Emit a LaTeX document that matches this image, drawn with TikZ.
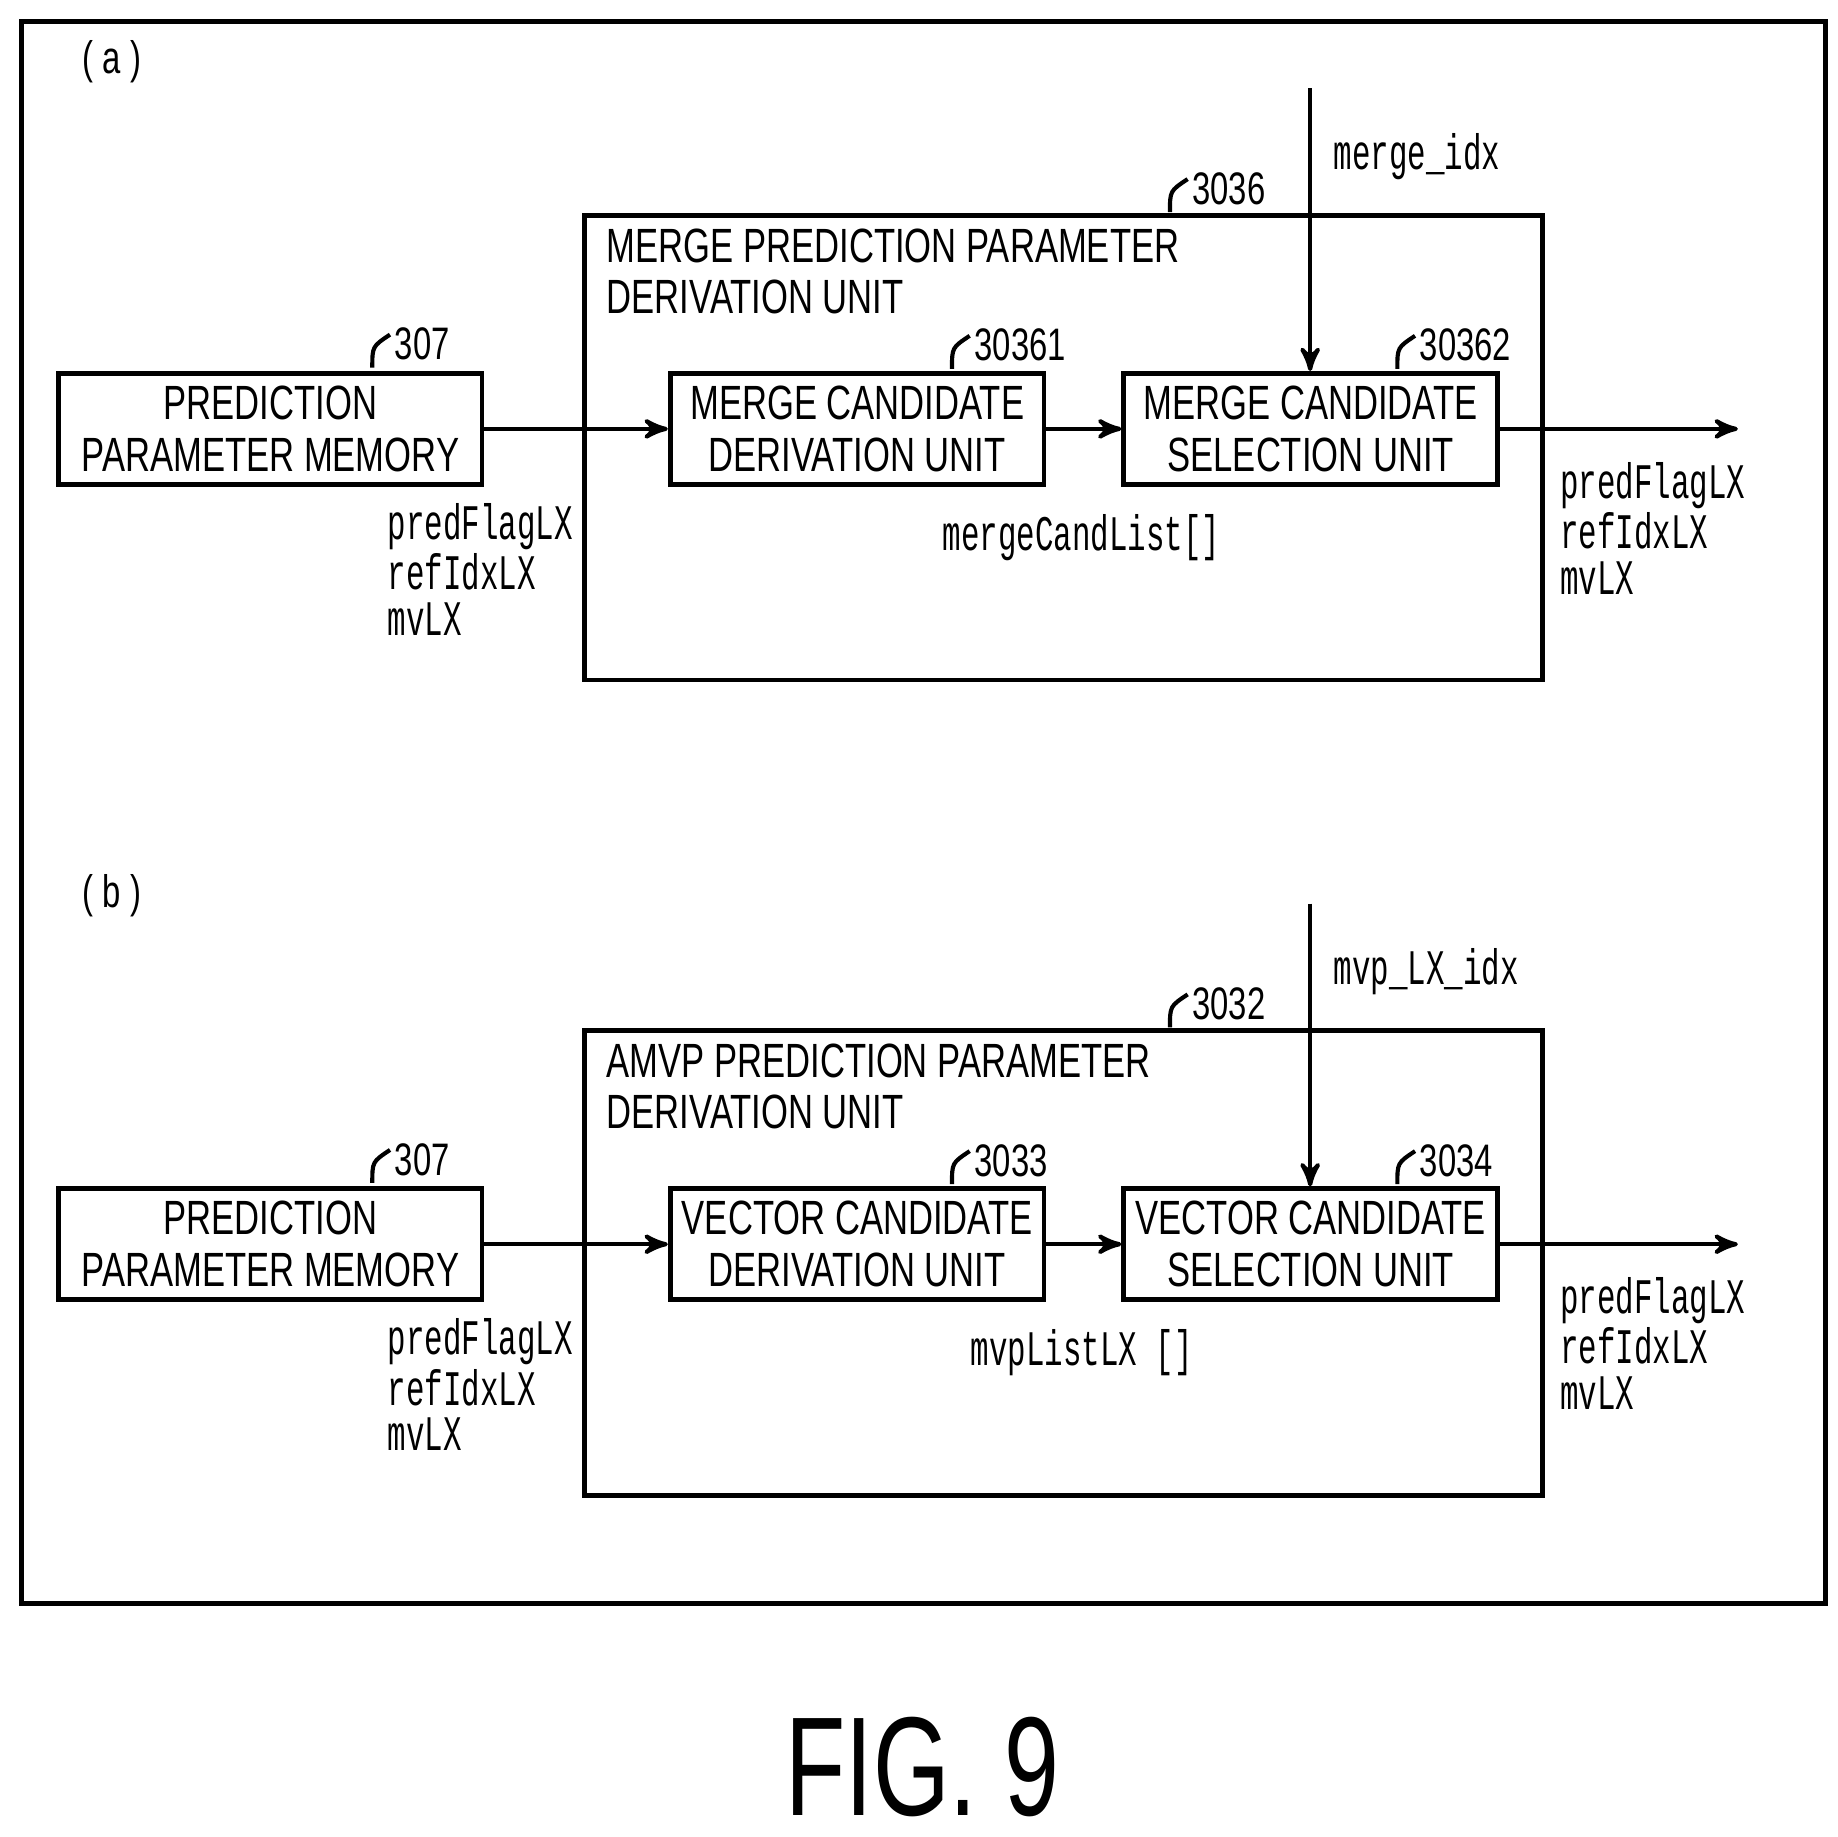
\documentclass[tikz,border=0pt]{standalone}
\usepackage{fontspec}
\newfontfamily\boxfont[FakeStretch=0.72]{Liberation Sans}
\newfontfamily\varfont[FakeStretch=0.62]{Liberation Mono}
\newfontfamily\figfont[FakeStretch=0.7]{Liberation Sans}
\usetikzlibrary{arrows}
\tikzset{
     unitNode/.style =
        { draw
        , line width=1.2pt
        , minimum width=3.17cm
        , minimum height=0.94cm
        , align=center
        , inner sep=0pt
        , font=\boxfont\fontsize{11.6}{12.5}\selectfont
        },
     refNode/.style =
        { anchor=west
        , inner sep=0pt
        , font=\boxfont\fontsize{11}{11}\selectfont
        },
     varNode/.style =
        { anchor=north west
        , inner sep=0pt
        , align=left
        , font=\varfont\fontsize{12}{11}\selectfont
        },
     flow/.style = {->, >=stealth', line width=1pt}
}
\begin{document}
\begin{tikzpicture}
            [ x=0.01cm
            , y=-0.01cm
            , line width=1.2pt
            ]
            \useasboundingbox (0,0) rectangle (1560,1559);
            \draw (18,18) rectangle (1549,1361);
            \node[font=\boxfont\fontsize{11}{11}\selectfont] (tagA) at (95,52) {( a )};
            \node[font=\boxfont\fontsize{11}{11}\selectfont] (tagB) at (95,760) {( b )};

            % (a) merge
            \node[unitNode, minimum width=8.13cm, minimum height=3.94cm] (mergeUnit) at (902.5,380) {};
            \node[refNode, anchor=north west, align=left, font=\boxfont\fontsize{11.6}{12.4}\selectfont] (mergeTitle) at (513,192) {MERGE PREDICTION PARAMETER\\DERIVATION UNIT};
            \node[unitNode, minimum width=3.59cm] (memA) at (229.5,364) {PREDICTION\\PARAMETER MEMORY};
            \node[unitNode] (candDerivA) at (727.5,364) {MERGE CANDIDATE\\DERIVATION UNIT};
            \node[unitNode] (candSelA) at (1112.5,364) {MERGE CANDIDATE\\SELECTION UNIT};
            \coordinate (outA) at (1475,364);
            \coordinate (idxA) at (1112,75);
            \path[flow]
            (memA) edge (candDerivA)
            (candDerivA) edge (candSelA)
            (candSelA) edge (outA)
            (idxA) edge (candSelA.north -| idxA)
            ;
            \node[varNode, anchor=west] (mergeIdx) at (1130,133) {merge\_idx};
            \node[varNode] (memOutA) at (327,425) {predFlagLX\\refIdxLX\\mvLX};
            \node[varNode] (selOutA) at (1322,390) {predFlagLX\\refIdxLX\\mvLX};
            \node[varNode, anchor=center] (listA) at (918,456) {mergeCandList[]};
            \node[refNode] (r3036) at (1010,160) {3036};
            \node[refNode] (r307a) at (333,292) {307};
            \node[refNode] (r30361) at (825,293) {30361};
            \node[refNode] (r30362) at (1203,293) {30362};

            % (b) amvp
            \node[unitNode, minimum width=8.13cm, minimum height=3.94cm] (amvpUnit) at (902.5,1072) {};
            \node[refNode, anchor=north west, align=left, font=\boxfont\fontsize{11.6}{12.4}\selectfont] (amvpTitle) at (513,884) {AMVP PREDICTION PARAMETER\\DERIVATION UNIT};
            \node[unitNode, minimum width=3.59cm] (memB) at (229.5,1056) {PREDICTION\\PARAMETER MEMORY};
            \node[unitNode] (candDerivB) at (727.5,1056) {VECTOR CANDIDATE\\DERIVATION UNIT};
            \node[unitNode] (candSelB) at (1112.5,1056) {VECTOR CANDIDATE\\SELECTION UNIT};
            \coordinate (outB) at (1475,1056);
            \coordinate (idxB) at (1112,767);
            \path[flow]
            (memB) edge (candDerivB)
            (candDerivB) edge (candSelB)
            (candSelB) edge (outB)
            (idxB) edge (candSelB.north -| idxB)
            ;
            \node[varNode, anchor=west] (mvpIdx) at (1130,825) {mvp\_LX\_idx};
            \node[varNode] (memOutB) at (327,1117) {predFlagLX\\refIdxLX\\mvLX};
            \node[varNode] (selOutB) at (1322,1082) {predFlagLX\\refIdxLX\\mvLX};
            \node[varNode, anchor=center] (listB) at (918,1148) {mvpListLX []};
            \node[refNode] (r3032) at (1010,852) {3032};
            \node[refNode] (r307b) at (333,984) {307};
            \node[refNode] (r3033) at (825,985) {3033};
            \node[refNode] (r3034) at (1203,985) {3034};

            % hooks of the reference numbers
            \foreach \r in {r3036,r307a,r30361,r30362,r3032,r307b,r3033,r3034}
                \draw[line width=1pt] ([xshift=-0.17cm,yshift=-0.2cm]\r.west) .. controls ([xshift=-0.17cm,yshift=-0.02cm]\r.west) .. ([xshift=-0.02cm,yshift=0.08cm]\r.west);

            \node[font=\figfont\fontsize{34}{34}\selectfont] (figLabel) at (783,1500) {FIG. 9};
        \end{tikzpicture}
\end{document}
